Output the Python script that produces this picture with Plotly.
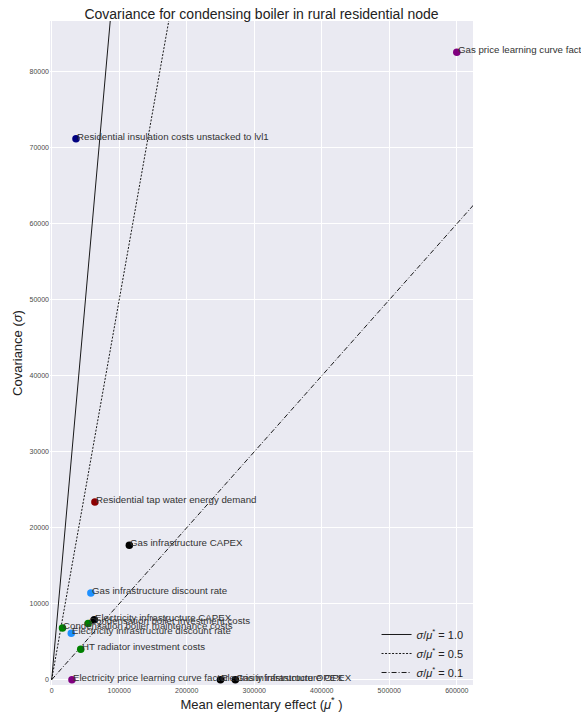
import plotly.graph_objects as go

# ---- data ----
param_names = [
    "Gas price learning curve factor",
    "Residential insulation costs unstacked to lvl1",
    "Residential tap water energy demand",
    "Gas infrastructure CAPEX",
    "Gas infrastructure discount rate",
    "Electricity infrastructure CAPEX",
    "Condensation boiler investment costs",
    "Condensation boiler maintenance costs",
    "Electricity infrastructure discount rate",
    "HT radiator investment costs",
    "Electricity price learning curve factor",
    "Electricity infrastructure OPEX",
    "Gas infrastructure OPEX",
]
mu_star = [600000, 36000, 64000, 115000, 58000, 63000, 54000, 16000, 29000, 43000, 30000, 250000, 272000]
sigma = [82600, 71200, 23400, 17700, 11400, 7900, 7400, 6800, 6100, 4000, 0, 0, 0]
point_colors = ["#800080", "#000080", "#8B0000", "#000000", "#1E90FF", "#000000",
                "#008000", "#008000", "#1E90FF", "#008000", "#800080", "#000000", "#000000"]

ratios = [1.0, 0.5, 0.1]
ratio_dash = ["solid", "2px,1.5px", "5px,2px,1px,2px"]
x_bounds = [0, 640000]

x_tickvals = [0, 100000, 200000, 300000, 400000, 500000, 600000]
y_tickvals = [0, 10000, 20000, 30000, 40000, 50000, 60000, 70000, 80000]

FONT = "Liberation Sans, Arial, sans-serif"

fig = go.Figure()

for r, d in zip(ratios, ratio_dash):
    fig.add_trace(go.Scatter(
        x=x_bounds, y=[r * v for v in x_bounds], mode="lines",
        line=dict(color="black", width=0.9, dash=d),
        name=f"<i>σ</i>/<i>μ</i><sup>*</sup> = {r:.1f}",
        hoverinfo="skip",
    ))

fig.add_trace(go.Scatter(
    x=mu_star, y=sigma, mode="markers",
    marker=dict(color=point_colors, size=7.5, line=dict(width=0)),
    text=param_names, showlegend=False, cliponaxis=False,
))

for name, m, s in zip(param_names, mu_star, sigma):
    fig.add_annotation(
        x=m, y=s, text=name, showarrow=False,
        xanchor="left", yanchor="bottom", xshift=-1, yshift=-5,
        font=dict(family=FONT, size=9.7, color="#333333"),
    )

fig.update_layout(
    width=581, height=720,
    margin=dict(l=50, r=108, t=21, b=35, autoexpand=False),
    paper_bgcolor="white", plot_bgcolor="#EAEAF2",
    font=dict(family=FONT, color="#222222"),
    title=dict(text="Covariance for condensing boiler in rural residential node",
               x=(50 + 423 / 2) / 581, xanchor="center", y=1 - 14 / 720, yanchor="middle",
               font=dict(size=14, color="#222222")),
    legend=dict(x=0.772, y=-0.003, xanchor="left", yanchor="bottom",
                bgcolor="rgba(0,0,0,0)", font=dict(size=11, color="#222222"),
                itemwidth=30, tracegroupgap=0),
    showlegend=True,
)

fig.update_xaxes(
    range=[-2500, 624000], tickvals=x_tickvals, ticktext=[str(v) for v in x_tickvals],
    showgrid=True, gridcolor="white", gridwidth=1, zeroline=False, showline=False,
    automargin=False,
    tickfont=dict(size=7, color="#4a4a4a"),
    title=dict(text="Mean elementary effect (<i>μ</i><sup>*</sup> )", font=dict(size=13), standoff=6),
)
fig.update_yaxes(
    range=[-700, 86700], tickvals=y_tickvals, ticktext=[str(v) for v in y_tickvals],
    showgrid=True, gridcolor="white", gridwidth=1, zeroline=False, showline=False,
    automargin=False,
    tickfont=dict(size=7, color="#4a4a4a"),
    title=dict(text="Covariance (<i>σ</i>)", font=dict(size=13), standoff=3),
)

fig.write_html("out.html", config={"displayModeBar": False},
               post_script="document.body.style.margin='0';")
